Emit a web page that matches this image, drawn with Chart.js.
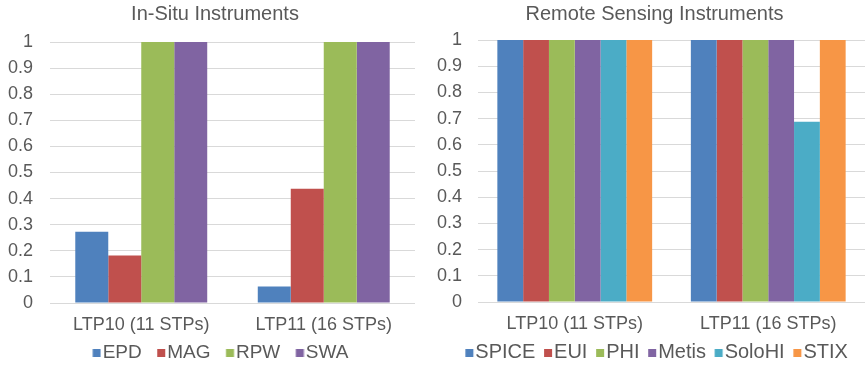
<!DOCTYPE html>
<html>
<head>
<meta charset="utf-8">
<script src="https://cdn.jsdelivr.net/npm/chart.js@4"></script>
<style>
    html, body { margin: 0; padding: 0; background: #fff; }
    #wrap { position: relative; width: 865px; height: 366px; overflow: hidden; }
    #left { position: absolute; left: 0; top: 0; }
    #right { position: absolute; left: 430px; top: 0; }
</style>
</head>
<body>
<div id="wrap">
    <canvas id="left" width="430" height="366"></canvas>
    <canvas id="right" width="449" height="366"></canvas>
</div>
<script>
// shared categories
const campaigns = ["LTP10 (11 STPs)", "LTP11 (16 STPs)"];
const yTicks = [0, 0.1, 0.2, 0.3, 0.4, 0.5, 0.6, 0.7, 0.8, 0.9, 1];

// in-situ instruments
const inSituNames = ["EPD", "MAG", "RPW", "SWA"];
const epd = [0.273, 0.063];
const mag = [0.182, 0.438];
const rpw = [1, 1];
const swa = [1, 1];

// remote sensing instruments
const remoteNames = ["SPICE", "EUI", "PHI", "Metis", "SoloHI", "STIX"];
const spice = [1, 1];
const eui = [1, 1];
const phi = [1, 1];
const metis = [1, 1];
const solohi = [1, 0.688];
const stix = [1, 1];

const colors = ["#4f81bd", "#c0504d", "#9bbb59", "#8064a2", "#4bacc6", "#f79646"];

const FONT = "'Liberation Sans', Arial, sans-serif";
const GREY = "#595959";

Chart.defaults.font.family = FONT;
Chart.defaults.font.size = 18;
Chart.defaults.color = GREY;
Chart.defaults.animation = false;

const LEGEND_PAD = 4.5;

// legend square, offset inside a wider transparent canvas so it sits 2px from its text
function swatch(color, boxW, fontSize) {
    const c = document.createElement("canvas");
    c.width = 28;
    c.height = 8;
    const g = c.getContext("2d");
    g.fillStyle = color;
    g.fillRect(boxW / 2 + 14 + fontSize / 2 - 10, 0, 8, 8);
    return c;
}

function makeDatasets(names, series) {
    return names.map((name, i) => ({
        label: name,
        data: series[i],
        backgroundColor: colors[i],
        borderWidth: 0,
        yAxisID: "y",
    }));
}

function makeChart(canvasId, title, names, series, opts) {
    const ctx = document.getElementById(canvasId).getContext("2d");
    const swatches = colors.map((c) => swatch(c, opts.legendBox, opts.legendFont));
    return new Chart(ctx, {
        type: "bar",
        data: {
            labels: campaigns,
            datasets: makeDatasets(names, series),
        },
        options: {
            responsive: false,
            layout: { padding: { left: 0, right: 0, bottom: -6.5 } },
            datasets: {
                bar: { categoryPercentage: opts.catPct, barPercentage: 1 },
            },
            plugins: {
                title: {
                    display: true,
                    text: title,
                    color: GREY,
                    font: { size: 20, weight: "normal" },
                    padding: { top: 2, bottom: opts.titleGap },
                },
                legend: {
                    position: "bottom",
                    labels: {
                        usePointStyle: true,
                        boxWidth: opts.legendBox,
                        boxHeight: 8,
                        padding: LEGEND_PAD,
                        color: GREY,
                        font: { size: opts.legendFont },
                        generateLabels: (chart) => {
                            const items = Chart.defaults.plugins.legend.labels.generateLabels(chart);
                            items.forEach((item, i) => {
                                item.pointStyle = swatches[i];
                            });
                            return items;
                        },
                    },
                },
                tooltip: { enabled: false },
            },
            scales: {
                x: {
                    grid: { display: false, drawTicks: false },
                    border: { display: false },
                    ticks: { padding: 11, color: GREY },
                    afterFit: (scale) => {
                        scale.height = 36;
                    },
                },
                y: {
                    min: 0,
                    max: 1,
                    afterBuildTicks: (scale) => {
                        scale.ticks = yTicks.map((v) => ({ value: v }));
                    },
                    afterFit: (scale) => {
                        scale.width = opts.yWidth;
                    },
                    grid: { color: "#d9d9d9", lineWidth: 1, drawTicks: false },
                    border: { display: false },
                    ticks: {
                        padding: opts.tickPad,
                        color: GREY,
                        callback: (v) => String(Math.round(v * 10) / 10),
                    },
                },
                // empty strip on the right so title and legend centre like the original
                spacer: {
                    position: "right",
                    grid: { display: false, drawTicks: false },
                    border: { display: false },
                    ticks: { display: false },
                    afterFit: (scale) => {
                        scale.width = opts.rightGap;
                    },
                },
            },
        },
    });
}

makeChart("left", "In-Situ Instruments", inSituNames, [epd, mag, rpw, swa], {
    yWidth: 50,
    tickPad: 17,
    rightGap: 15,
    catPct: 0.723,
    titleGap: 16,
    legendBox: 11.5,
    legendFont: 19,
});

makeChart("right", "Remote Sensing Instruments", remoteNames,
    [spice, eui, phi, metis, solohi, stix], {
    yWidth: 48,
    tickPad: 16,
    rightGap: 14,
    catPct: 0.80,
    titleGap: 14,
    legendBox: 4.2,
    legendFont: 20,
});
</script>
</body>
</html>
